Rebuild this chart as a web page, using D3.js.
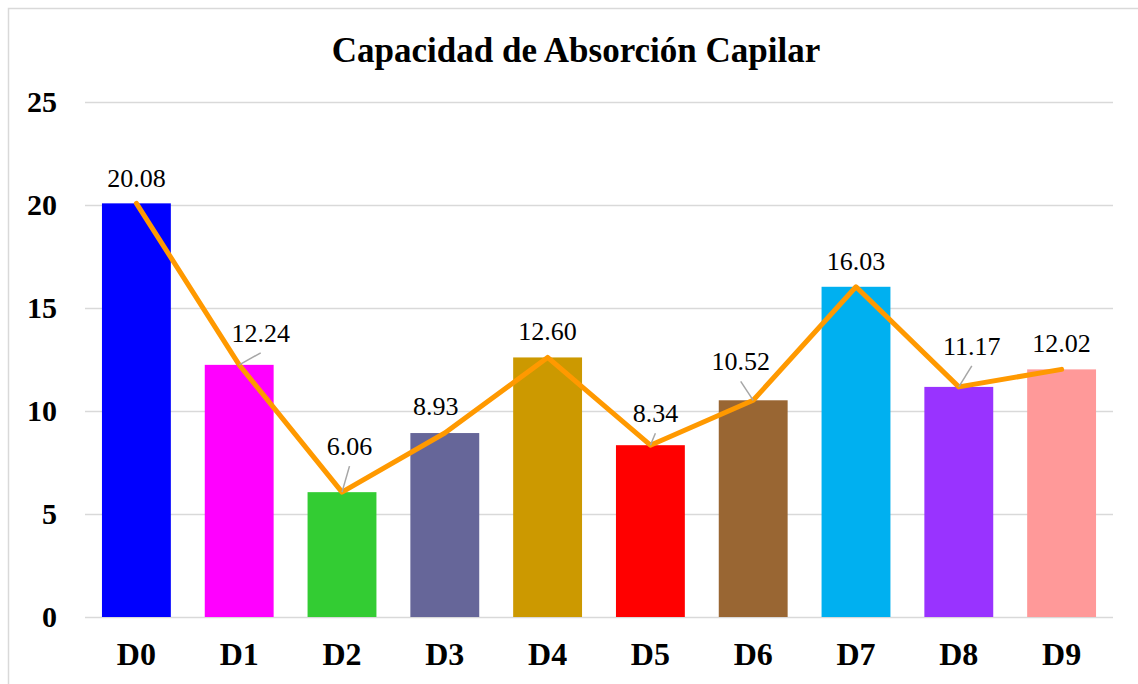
<!DOCTYPE html>
<html><head><meta charset="utf-8">
<script src="https://cdn.jsdelivr.net/npm/d3@7"></script>
<style>html,body{margin:0;padding:0;background:#fff;}svg{display:block;}</style>
</head><body>
<svg id="chart" width="1138" height="684"></svg>
<script>
const categories = ["D0","D1","D2","D3","D4","D5","D6","D7","D8","D9"];
const values = [20.08, 12.24, 6.06, 8.93, 12.60, 8.34, 10.52, 16.03, 11.17, 12.02];
const barColors = ["#0000FF","#FF00FF","#33CC33","#666699","#CC9900","#FF0000","#996633","#00B0F0","#9933FF","#FF9999"];
const yTicks = [0, 5, 10, 15, 20, 25];
const titleText = "Capacidad de Absorción Capilar";
// label nudges (dx, dy) and leader-line flags, as placed in the original
const labelDx = [0, 21.5, 7.5, -9, 0, 5, -12.5, 0, 13, 0];
const labelDy = [0, -7, -21, -2, -1, -7, -14, -1, -16, -1];
const leader = [false, true, true, false, false, true, true, false, true, false];

const svg = d3.select("#chart");
const plot = {left: 85, right: 1113, top: 102, bottom: 617};
const serif = "Liberation Serif, serif";

svg.append("rect").attr("x", 8.5).attr("y", 8.5).attr("width", 1150).attr("height", 700)
  .attr("fill", "#fff").attr("stroke", "#D9D9D9").attr("stroke-width", 1.5);

const x = d3.scaleBand().domain(categories).range([plot.left, plot.right])
  .paddingInner(0.33).paddingOuter(0.165);
const y = d3.scaleLinear().domain([0, 25]).range([plot.bottom, plot.top]);

// gridlines
svg.append("g").selectAll("line").data(yTicks).join("line")
  .attr("x1", plot.left).attr("x2", plot.right)
  .attr("y1", d => Math.round(y(d)) + 0.5).attr("y2", d => Math.round(y(d)) + 0.5)
  .attr("stroke", "#D9D9D9").attr("stroke-width", 1.5);

// y axis labels
const yAxis = d3.axisLeft(y).tickValues(yTicks).tickSize(0).tickPadding(0);
const gy = svg.append("g").attr("transform", "translate(57,0)").call(yAxis)
  .attr("font-family", serif).attr("font-size", 30);
gy.select(".domain").remove();
gy.selectAll("text").attr("font-family", serif).attr("font-size", 30).attr("font-weight", "bold")
  .attr("fill", "#000").attr("dy", "0.33em");

// bars
svg.append("g").selectAll("rect").data(values).join("rect")
  .attr("x", (d, i) => x(categories[i]))
  .attr("y", d => y(d))
  .attr("width", x.bandwidth())
  .attr("height", d => y(0) - y(d))
  .attr("fill", (d, i) => barColors[i]);

// x axis
const xAxis = d3.axisBottom(x).tickSize(0).tickPadding(0);
const gx = svg.append("g").attr("transform", `translate(0,${plot.bottom})`).call(xAxis)
  .attr("font-family", serif).attr("font-size", 32);
gx.select(".domain").remove();
gx.selectAll("text").attr("font-family", serif).attr("font-size", 32).attr("font-weight", "bold")
  .attr("fill", "#000").attr("dy", null).attr("y", 48);

// line
const cx = i => x(categories[i]) + x.bandwidth() / 2;
const line = d3.line().x((d, i) => cx(i)).y(d => y(d));
svg.append("path").datum(values).attr("d", line).attr("fill", "none")
  .attr("stroke", "#FF9900").attr("stroke-width", 5).attr("stroke-linejoin", "round").attr("stroke-linecap", "round");

// leader lines
svg.append("g").selectAll("line").data(values.map((v, i) => i).filter(i => leader[i])).join("line")
  .attr("x1", i => cx(i)).attr("y1", i => y(values[i]))
  .attr("x2", i => cx(i) + labelDx[i]).attr("y2", i => y(values[i]) - 16 + labelDy[i] + 11)
  .attr("stroke", "#A6A6A6").attr("stroke-width", 1.5);

// data labels
svg.append("g").attr("font-family", serif).selectAll("text").data(values).join("text")
  .attr("x", (d, i) => cx(i) + labelDx[i])
  .attr("y", (d, i) => y(d) - 16 + labelDy[i])
  .attr("text-anchor", "middle").attr("font-family", serif).attr("font-size", 26).attr("fill", "#000")
  .text(d => d.toFixed(2));

// title
svg.append("text").attr("x", 576).attr("y", 62).attr("text-anchor", "middle")
  .attr("font-family", serif).attr("font-size", 35).attr("font-weight", "bold").attr("fill", "#000")
  .text(titleText);
</script>
</body></html>
